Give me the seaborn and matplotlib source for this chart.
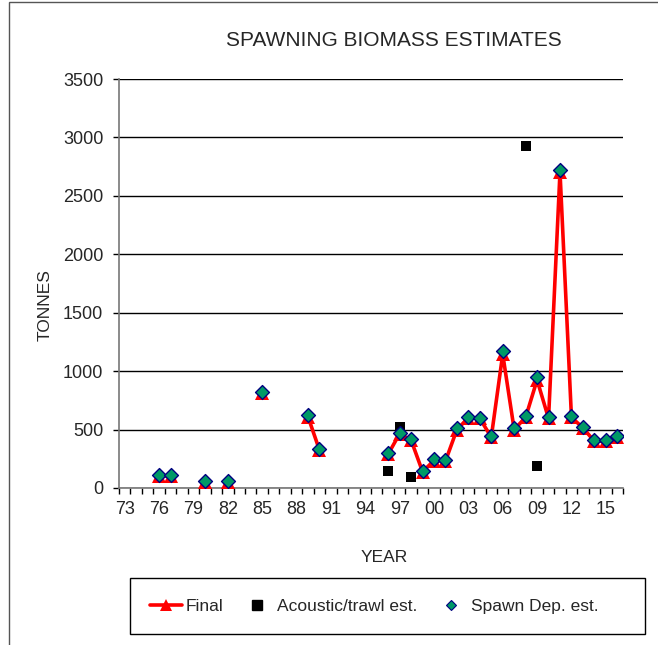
import numpy as np
import pandas as pd
import matplotlib
matplotlib.use("Agg")
import matplotlib.pyplot as plt
from matplotlib.lines import Line2D
from matplotlib.patches import Rectangle
import seaborn as sns

sns.set_style("white")
plt.rcParams['font.family'] = ['Liberation Sans', 'DejaVu Sans']

# ---- data ----
final_years = [1976, 1977, 1980, 1982, 1985, 1989, 1990,
               1996, 1997, 1998, 1999, 2000, 2001, 2002, 2003, 2004, 2005,
               2006, 2007, 2008, 2009, 2010, 2011, 2012, 2013, 2014, 2015, 2016]
final_vals = [100, 100, 50, 50, 815, 610, 325,
              290, 465, 410, 140, 235, 230, 500, 600, 595, 435,
              1145, 500, 605, 925, 595, 2705, 605, 515, 400, 400, 440]
spawn_years = final_years
spawn_vals = [111, 111, 60, 60, 824, 622, 336,
              302, 473, 419, 148, 245, 240, 511, 610, 602, 448,
              1172, 511, 616, 947, 605, 2721, 616, 522, 411, 411, 448]
acoustic_years = [1996, 1997, 1998, 2008, 2009]
acoustic_vals = [148, 525, 91, 2929, 191]
tick_labels = ['73', '76', '79', '82', '85', '88', '91', '94', '97',
               '00', '03', '06', '09', '12', '15']

# segments (break line where years are missing)
seg = []
s = 0
for i, y in enumerate(final_years):
    if i > 0 and y - final_years[i - 1] > 1:
        s += 1
    seg.append(s)
df_final = pd.DataFrame({'year': final_years, 'val': final_vals, 'seg': seg})
df_spawn = pd.DataFrame({'year': spawn_years, 'val': spawn_vals})
df_ac = pd.DataFrame({'year': acoustic_years, 'val': acoustic_vals})

W, H = 658, 645
fig = plt.figure(figsize=(W / 100, H / 100), dpi=100)
ax = fig.add_axes([119 / W, 1 - 488 / H, (623 - 119) / W, (488 - 79) / H])

# outer chart border (extends past right/bottom edges)
fig.patches.append(Rectangle((8.5 / W, -0.2), 2, 1.2 - 1.5 / H,
                             transform=fig.transFigure, fill=False,
                             edgecolor='#555555', linewidth=1.0))

red = '#ff0000'
green = '#009966'
navy = '#000080'

sns.lineplot(data=df_final, x='year', y='val', units='seg', estimator=None,
             color=red, linewidth=2.6, marker='^', markersize=10.5,
             markeredgecolor=red, markeredgewidth=0, ax=ax, legend=False,
             zorder=3)
sns.scatterplot(data=df_ac, x='year', y='val', marker='s', s=52,
                color='black', edgecolor='black', linewidth=0, ax=ax,
                legend=False, zorder=4)
sns.scatterplot(data=df_spawn, x='year', y='val', marker='D', s=50,
                color=green, edgecolor=navy, linewidth=1.0, ax=ax,
                legend=False, zorder=5)

ax.set_xlim(1972.5, 2016.5)
ax.set_ylim(0, 3500)
ax.set_yticks(np.arange(0, 3501, 500))
ax.set_xticks(list(range(1973, 2016, 3)))
ax.set_xticklabels(tick_labels)
ax.set_xticks(np.arange(1972.5, 2017, 1.0), minor=True)
ax.tick_params(axis='x', which='major', length=0, pad=9, labelsize=13,
               bottom=True)
ax.tick_params(axis='x', which='minor', length=4.3, width=1, color='black',
               direction='out', bottom=True)
ax.tick_params(axis='y', which='major', length=4.3, width=1, color='black',
               direction='out', labelsize=13, pad=7, left=True)
ax.grid(axis='y', color='black', linewidth=1)
ax.set_axisbelow(True)
for side in ['top', 'right']:
    ax.spines[side].set_visible(False)
for side in ['left', 'bottom']:
    ax.spines[side].set_color('#777777')
    ax.spines[side].set_linewidth(1.2)
ax.set_xlabel('')
ax.set_ylabel('')

fig.text(394 / W, 1 - 40 / H, 'SPAWNING BIOMASS ESTIMATES', ha='center',
         va='center', fontsize=15)
fig.text(45 / W, 1 - 305 / H, 'TONNES', ha='center', va='center',
         rotation=90, fontsize=12.5)
fig.text(384 / W, 1 - 558 / H, 'YEAR', ha='center', va='center',
         fontsize=12.5)

# legend frame
fig.patches.append(Rectangle((130 / W, 1 - 634 / H), 515 / W, 56 / H,
                             transform=fig.transFigure, fill=False,
                             edgecolor='black', linewidth=1.0))
handles = [
    Line2D([], [], color=red, linewidth=2.6, marker='^', markersize=8,
           markeredgewidth=0),
    Line2D([], [], color='none', marker='s', markersize=7,
           markerfacecolor='black', markeredgecolor='black'),
    Line2D([], [], color='none', marker='D', markersize=5.5,
           markerfacecolor=green, markeredgecolor=navy, markeredgewidth=0.8),
]
labels = ['Final', 'Acoustic/trawl est.', 'Spawn Dep. est.']
leg = fig.legend(handles, labels, loc='center left', ncol=3,
                 bbox_to_anchor=(150 / W, 1 - 606 / H),
                 frameon=False, fontsize=12.5, handlelength=1.84,
                 handletextpad=0.2, columnspacing=1.05, borderaxespad=0,
                 borderpad=0)

fig.savefig('out.png', dpi=100)
